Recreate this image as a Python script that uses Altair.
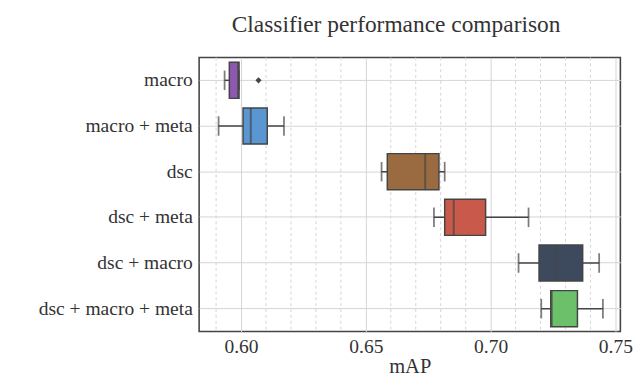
import altair as alt
import pandas as pd

categories = ["macro", "macro + meta", "dsc", "dsc + meta", "dsc + macro", "dsc + macro + meta"]
whisker_low = [0.5934, 0.5910, 0.6563, 0.6773, 0.7112, 0.7203]
q1 = [0.5953, 0.6008, 0.6586, 0.6816, 0.7194, 0.7241]
median = [0.5988, 0.6039, 0.6738, 0.6852, 0.7264, 0.7245]
q3 = [0.5992, 0.6105, 0.6793, 0.6980, 0.7369, 0.7348]
whisker_high = [0.5992, 0.6172, 0.6816, 0.7152, 0.7435, 0.7450]
colors = ["#8d58b0", "#5a96d2", "#9a6b40", "#c95a4b", "#3d4a5e", "#6cc06a"]

outlier_cat = ["macro"]
outlier_val = [0.6070]

minor_grid = [0.59, 0.61, 0.62, 0.63, 0.64, 0.66, 0.67, 0.68, 0.69, 0.71, 0.72, 0.73, 0.74]
major_ticks = [0.60, 0.65, 0.70, 0.75]

df = pd.DataFrame({
    "cat": categories, "lo": whisker_low, "q1": q1, "med": median,
    "q3": q3, "hi": whisker_high, "color": colors,
})
out_df = pd.DataFrame({"cat": outlier_cat, "v": outlier_val})
grid_df = pd.DataFrame({"g": minor_grid})

FONT = "Liberation Serif"
LINE = "#444444"

xscale = alt.Scale(domain=[0.5832, 0.752], nice=False, zero=False)
yscale = alt.Scale(domain=categories, paddingInner=0, paddingOuter=0)

x_axis = alt.Axis(values=major_ticks, format=".2f", title="mAP", grid=True,
                  gridColor="#d4d4d4", gridWidth=1, ticks=False, domain=False,
                  labelFont=FONT, labelFontSize=20, labelColor="#333333",
                  titleFont=FONT, titleFontSize=21, titleFontWeight="normal",
                  titleColor="#333333", labelPadding=6, titlePadding=-1)
y_axis = alt.Axis(title=None, grid=True, gridColor="#d4d4d4", gridWidth=1,
                  ticks=False, domain=False, bandPosition=0.5,
                  labelFont=FONT, labelFontSize=20, labelColor="#333333",
                  labelPadding=7, minExtent=188, maxExtent=188, labelLimit=0)

grid = alt.Chart(grid_df).mark_rule(color="#d4d4d4", strokeDash=[3, 3], strokeWidth=1).encode(
    x=alt.X("g:Q", scale=xscale, axis=x_axis)
)

base = alt.Chart(df)
whisk = base.mark_rule(color=LINE, strokeWidth=1.5).encode(
    y=alt.Y("cat:N", scale=yscale, axis=y_axis, sort=categories),
    x=alt.X("lo:Q", scale=xscale),
    x2="hi:Q",
)
box = base.mark_bar(size=37, stroke=LINE, strokeWidth=1.5).encode(
    y=alt.Y("cat:N", scale=yscale, sort=categories),
    x=alt.X("q1:Q", scale=xscale),
    x2="q3:Q",
    color=alt.Color("color:N", scale=None, legend=None),
)
med = base.mark_tick(color=LINE, size=37, thickness=2, orient="vertical").encode(
    y=alt.Y("cat:N", scale=yscale, sort=categories),
    x=alt.X("med:Q", scale=xscale),
)
cap_lo = base.mark_tick(color=LINE, size=20, thickness=1.8, orient="vertical").encode(
    y=alt.Y("cat:N", scale=yscale, sort=categories),
    x=alt.X("lo:Q", scale=xscale),
)
cap_hi = base.mark_tick(color=LINE, size=20, thickness=1.8, orient="vertical").encode(
    y=alt.Y("cat:N", scale=yscale, sort=categories),
    x=alt.X("hi:Q", scale=xscale),
)
outl = alt.Chart(out_df).mark_point(shape="diamond", filled=True, color=LINE, size=40, opacity=1).encode(
    y=alt.Y("cat:N", scale=yscale, sort=categories),
    x=alt.X("v:Q", scale=xscale),
)

chart = alt.layer(grid, whisk, box, med, cap_lo, cap_hi, outl).properties(
    width=432, height=281,
    padding={"left": 8, "top": 0, "right": 2, "bottom": 0},
    title=alt.TitleParams("Classifier performance comparison", font=FONT, fontSize=24,
                          fontWeight="normal", color="#333333", offset=21, dx=-14),
).configure_view(stroke=LINE, strokeWidth=1.6)

chart.save("out.html", embed_options={"renderer": "svg", "actions": False})
